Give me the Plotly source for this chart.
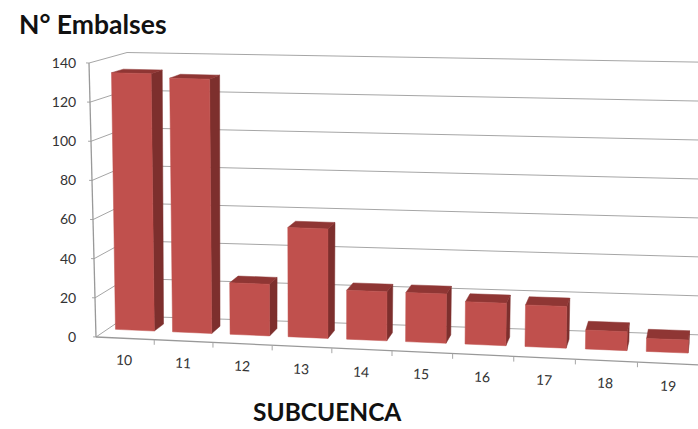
import plotly.graph_objects as go

# --- data ---
subcuencas = ["10", "11", "12", "13", "14", "15", "16", "17", "18", "19"]
embalses = [133, 131, 26.5, 56, 25, 25, 21.5, 21, 9.5, 6.5]
y_ticks = [0, 20, 40, 60, 80, 100, 120, 140]

Y_MAX = 140
W, H = 698, 429
ML, MR, MT, MB = 84, 0, 40, 20


def project(t, v, d):
    """Excel-style perspective box -> picture position.
    t: 0..1 along the categories, v: value, d: 0 (front) .. 1 (back)."""
    f = v / Y_MAX
    x = 96 + 580 * t + 24 * t * t + (-7 + 14 * t) * f
    x += d * ((31 + 7 * f) * (1 - t) + 3 * t)
    y = 337 + 28 * t - (1.957 + 0.073 * t) * v
    y -= d * ((21 + 9 * t) * (1 - f) + (10.5 + 8 * t) * f)
    return x, y


def to_axes(p):
    return (p[0] - 96) / 60.4, (337 - p[1]) / 1.957


def pt(t, v, d):
    return to_axes(project(t, v, d))


def polys(list_of_polys):
    xs, ys = [], []
    for poly in list_of_polys:
        for t, v, d in poly + [poly[0]]:
            a, b = pt(t, v, d)
            xs.append(a)
            ys.append(b)
        xs.append(None)
        ys.append(None)
    return xs, ys


def lines(list_of_paths):
    xs, ys = [], []
    for path in list_of_paths:
        for t, v, d in path:
            a, b = pt(t, v, d)
            xs.append(a)
            ys.append(b)
        xs.append(None)
        ys.append(None)
    return xs, ys


fig = go.Figure()

# walls: grid lines on the side wall and the back wall
gx, gy = lines([[(-0.005, v, 0), (0, v, 0), (0, v, 1), (1.02, v, 1)] for v in y_ticks])
fig.add_trace(go.Scatter(x=gx, y=gy, mode="lines", line=dict(color="#a6a6a6", width=1), hoverinfo="skip"))

# value axis and front floor edge with category ticks
n = len(subcuencas)
ax_paths = [[(0, 0, 0), (0, Y_MAX, 0)], [(0, 0, 0), (1.02, 0, 0)]]
ax, ay = lines(ax_paths)
fig.add_trace(go.Scatter(x=ax, y=ay, mode="lines", line=dict(color="#999999", width=1.3), hoverinfo="skip"))
tx, ty = [], []
for i in range(1, n):
    a, b = project(i / n, 0, 0)
    tx += [to_axes((a, b))[0], to_axes((a, b + 5))[0], None]
    ty += [to_axes((a, b))[1], to_axes((a, b + 5))[1], None]
fig.add_trace(go.Scatter(x=tx, y=ty, mode="lines", line=dict(color="#a6a6a6", width=1), hoverinfo="skip"))

# bars
HALF = 0.034
D0, D1 = 0.38, 0.70
front, side, top = [], [], []
for i, val in enumerate(embalses):
    c = (i + 0.5) / n - 0.0025 - 0.0003 * i
    l, r = c - HALF, c + HALF
    front.append([(l, 0, D0), (r, 0, D0), (r, val, D0), (l, val, D0)])
    side.append([(r, 0, D0), (r, 0, D1), (r, val, D1), (r, val, D0)])
    top.append([(l, val, D0), (r, val, D0), (r, val, D1), (l, val, D1)])

for name, faces, colour in [("lado", side, "#7d2f2d"), ("techo", top, "#8f3634"), ("Nº Embalses", front, "#c0504d")]:
    px_, py_ = polys(faces)
    fig.add_trace(go.Scatter(x=px_, y=py_, mode="lines", fill="toself", fillcolor=colour,
                             line=dict(color=colour, width=0.5), name=name, hoverinfo="skip"))

plot_w = W - ML - MR
plot_h = H - MT - MB

# category labels, following the sloping floor
annotations = []
for i, label in enumerate(subcuencas):
    a, b = project((i + 0.5) / n, 0, 0)
    x, y = to_axes((a - 1, b + 21.5))
    annotations.append(dict(x=x, y=y, xref="x", yref="y", text=label, showarrow=False, textangle=3,
                            font=dict(family="Lato", size=14, color="#333333")))

annotations.append(dict(x=(17 - ML) / plot_w, y=(H - MB - 24) / plot_h, xref="paper", yref="paper",
                        xanchor="left", yanchor="middle",
                        text="<b>N° Embalses</b>", showarrow=False,
                        font=dict(family="Lato", size=26.5, color="#111111")))
annotations.append(dict(x=(327 - ML) / plot_w, y=(H - MB - 411) / plot_h, xref="paper", yref="paper",
                        xanchor="center", yanchor="middle",
                        text="<b>SUBCUENCA</b>", showarrow=False,
                        font=dict(family="Lato", size=24.5, color="#111111")))

fig.update_layout(
    width=W, height=H, margin=dict(l=ML, r=MR, t=MT, b=MB),
    paper_bgcolor="white", plot_bgcolor="white", showlegend=False,
    annotations=annotations,
    xaxis=dict(range=[(ML - 96) / 60.4, (W - 96) / 60.4], visible=False, fixedrange=True),
    yaxis=dict(range=[(337 - (H - MB)) / 1.957, (337 - MT) / 1.957], tickmode="array", tickvals=y_ticks,
               showgrid=False, zeroline=False, showline=False, ticks="outside", ticklen=4,
               tickcolor="rgba(0,0,0,0)", tickfont=dict(family="Lato", size=14, color="#333333"),
               fixedrange=True),
)

fig.write_html("out.html", config={"displayModeBar": False},
               post_script="document.body.style.margin='0';document.documentElement.style.overflow='hidden';")
